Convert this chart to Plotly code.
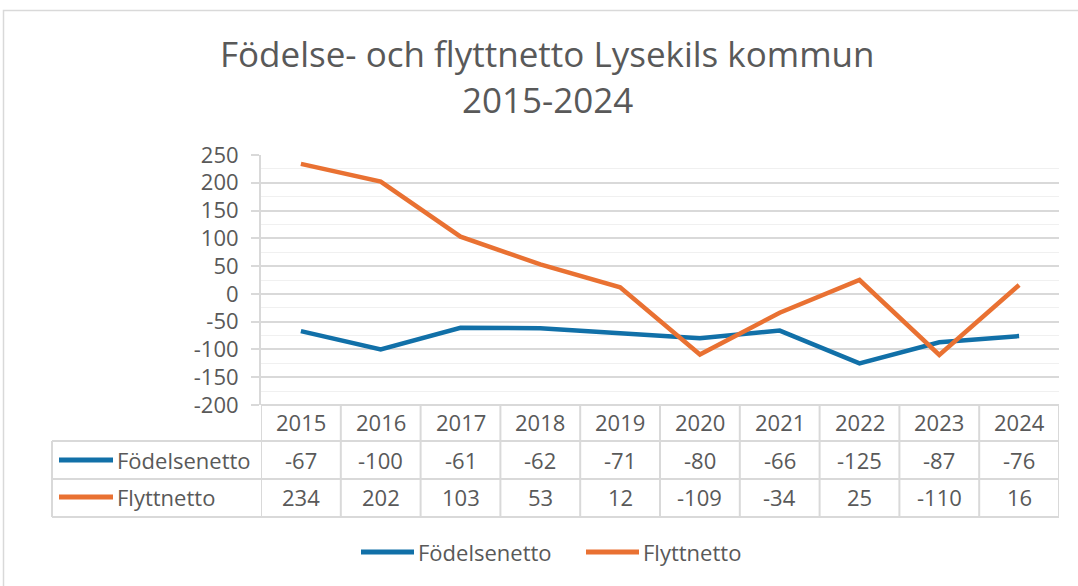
import plotly.graph_objects as go

years = ["2015", "2016", "2017", "2018", "2019", "2020", "2021", "2022", "2023", "2024"]
series_names = ["Födelsenetto", "Flyttnetto"]
fodelsenetto = [-67, -100, -61, -62, -71, -80, -66, -125, -87, -76]
flyttnetto = [234, 202, 103, 53, 12, -109, -34, 25, -110, 16]
y_ticks = [250, 200, 150, 100, 50, 0, -50, -100, -150, -200]
title_lines = ["Födelse- och flyttnetto Lysekils kommun", "2015-2024"]

W, H = 1078, 586
colors = ["#1170A8", "#E97132"]
txt = "#595959"
grid = "#d9d9d9"
font_main = "Open Sans, Roboto, 'Liberation Sans', sans-serif"
font_title = "Open Sans, Roboto, 'Liberation Sans', sans-serif"
fs = 22


def px(x):
    return x / W


def py(y):
    return 1 - y / H


plot_l, plot_r, plot_t, plot_b = 261, 1059, 155, 405
row_y = [405, 441, 479, 517]
table_l = 52

fig = go.Figure()
for name, vals, c in zip(series_names, [fodelsenetto, flyttnetto], colors):
    fig.add_trace(go.Scatter(x=list(range(len(years))), y=vals, mode="lines", name=name,
                             line=dict(color=c, width=4.5), showlegend=False))

shapes = []
# chart border
shapes.append(dict(type="rect", xref="paper", yref="paper", x0=px(3.5), x1=px(1100),
                   y0=py(620), y1=py(10.5), line=dict(color="#d9d9d9", width=1.5)))
# table horizontal lines
shapes.append(dict(type="line", xref="paper", yref="paper", x0=px(plot_l), x1=px(plot_r),
                   y0=py(row_y[0]), y1=py(row_y[0]), line=dict(color=grid, width=2)))
for ry in row_y[1:]:
    shapes.append(dict(type="line", xref="paper", yref="paper", x0=px(table_l), x1=px(plot_r),
                       y0=py(ry), y1=py(ry), line=dict(color=grid, width=2)))
# left border of rows
shapes.append(dict(type="line", xref="paper", yref="paper", x0=px(table_l), x1=px(table_l),
                   y0=py(row_y[1]), y1=py(row_y[3]), line=dict(color=grid, width=2)))
# column separators
for i in range(len(years) + 1):
    shapes.append(dict(type="line", xref="x", yref="paper", x0=i - 0.5, x1=i - 0.5,
                       y0=py(row_y[0]), y1=py(row_y[3]), line=dict(color=grid, width=2)))

annotations = []
for t, yy in zip(title_lines, [53, 100]):
    annotations.append(dict(text=t, x=px(547), y=py(yy), xref="paper", yref="paper",
                            showarrow=False, xanchor="center", yanchor="middle",
                            font=dict(family=font_title, size=35, color=txt)))
# header years
for i, yr in enumerate(years):
    annotations.append(dict(text=yr, x=i, y=py(422), xref="x", yref="paper", showarrow=False,
                            xanchor="center", yanchor="middle",
                            font=dict(family=font_main, size=fs, color=txt)))
# rows
row_centers = [460, 497]
for name, vals, c, rc in zip(series_names, [fodelsenetto, flyttnetto], colors, row_centers):
    for i, v in enumerate(vals):
        annotations.append(dict(text=str(v), x=i, y=py(rc), xref="x", yref="paper",
                                showarrow=False, xanchor="center", yanchor="middle",
                                font=dict(family=font_main, size=fs, color=txt)))
    shapes.append(dict(type="line", xref="paper", yref="paper", x0=px(59), x1=px(113),
                       y0=py(rc), y1=py(rc), line=dict(color=c, width=5)))
    annotations.append(dict(text=name, x=px(115), y=py(rc), xref="paper", yref="paper",
                            showarrow=False, xanchor="left", yanchor="middle",
                            font=dict(family=font_main, size=fs, color=txt)))

# bottom legend
leg = [(361, 414, 416), (586, 639, 641)]
for (l0, l1, tx), name, c in zip(leg, series_names, colors):
    shapes.append(dict(type="line", xref="paper", yref="paper", x0=px(l0), x1=px(l1),
                       y0=py(552), y1=py(552), line=dict(color=c, width=5)))
    annotations.append(dict(text=name, x=px(tx), y=py(552), xref="paper", yref="paper",
                            showarrow=False, xanchor="left", yanchor="middle",
                            font=dict(family=font_main, size=fs, color=txt)))

fig.update_layout(
    width=W, height=H, margin=dict(l=0, r=0, t=0, b=0, autoexpand=False),
    paper_bgcolor="white", plot_bgcolor="white",
    shapes=shapes, annotations=annotations,
    xaxis=dict(domain=[px(plot_l), px(plot_r)], range=[-0.5, 9.5], automargin=False,
               showticklabels=False, showgrid=False, zeroline=False, showline=False, ticks=""),
    yaxis=dict(domain=[py(plot_b), py(plot_t)], range=[-200, 250], tickvals=y_ticks,
               ticktext=[str(v) for v in y_ticks], automargin=False,
               showgrid=True, gridcolor=grid, gridwidth=1.5, zeroline=False,
               showline=True, linecolor=grid, linewidth=2,
               ticks="outside", ticklen=8, tickcolor=grid, tickwidth=1.5,
               ticklabelstandoff=8,
               tickfont=dict(family=font_main, size=fs, color=txt),
               minor=dict(dtick=25, tick0=0, showgrid=True, gridcolor="#f0f0f0", gridwidth=1.2, ticks="")),
    showlegend=False,
)

fig.write_html("out.html", config={"displayModeBar": False},
               post_script="document.body.style.margin='0';")
